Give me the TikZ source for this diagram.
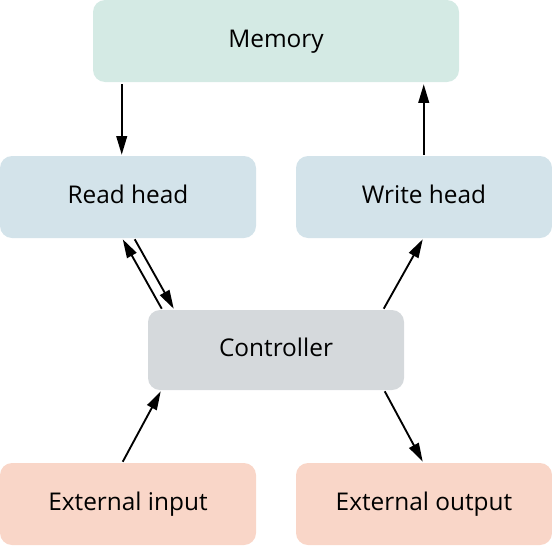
\documentclass[tikz,border=0pt]{standalone}
\usepackage{fontspec}
\setmainfont{Open Sans}
\usetikzlibrary{arrows.meta,calc}
\definecolor{memc}{HTML}{D4EAE4}
\definecolor{headc}{HTML}{D3E3EA}
\definecolor{ctrlc}{HTML}{D5D9DC}
\definecolor{extc}{HTML}{F9D6C8}
\tikzset{
  box/.style={rectangle, rounded corners=9pt, inner sep=0pt, minimum width=192pt, minimum height=61.5pt,
    text height=14pt, text depth=3.8pt,
    font=\fontsize{18.3pt}{22pt}\selectfont, text=black},
  conn/.style={line width=1.4pt, -{Triangle[length=14pt,width=8pt]}}
}
\begin{document}
\begin{tikzpicture}[x=0.75pt,y=-0.75pt]
\useasboundingbox (0,0) rectangle (552,546);
\node[box, fill=memc, minimum width=274.5pt] (mem) at (276,41) {Memory};
\node[box, fill=headc] (read) at (128,197) {Read head};
\node[box, fill=headc] (write) at (424,197) {Write head};
\node[box, fill=ctrlc, minimum height=60pt] (ctrl) at (276,350) {Controller};
\node[box, fill=extc] (in) at (128,504) {External input};
\node[box, fill=extc] (out) at (424,504) {External output};
\draw[conn] ($(mem.south west)+(29,2)$) -- ($(read.north west)+(122,-1)$);
\draw[conn] ($(write.north west)+(128,-1)$) -- ($(mem.south west)+(331,2)$);
\draw[conn] ($(ctrl.north west)+(14,-1)$) -- ($(read.south west)+(123,1)$);
\draw[conn] ($(read.south west)+(135,1)$) -- ($(ctrl.north west)+(26,-1)$);
\draw[conn] ($(ctrl.north west)+(236,-1)$) -- ($(write.south west)+(127,1)$);
\draw[conn] ($(in.north west)+(123,-1)$) -- ($(ctrl.south west)+(13,1)$);
\draw[conn] ($(ctrl.south west)+(237,1)$) -- ($(out.north west)+(127,-1)$);
\end{tikzpicture}
\end{document}
